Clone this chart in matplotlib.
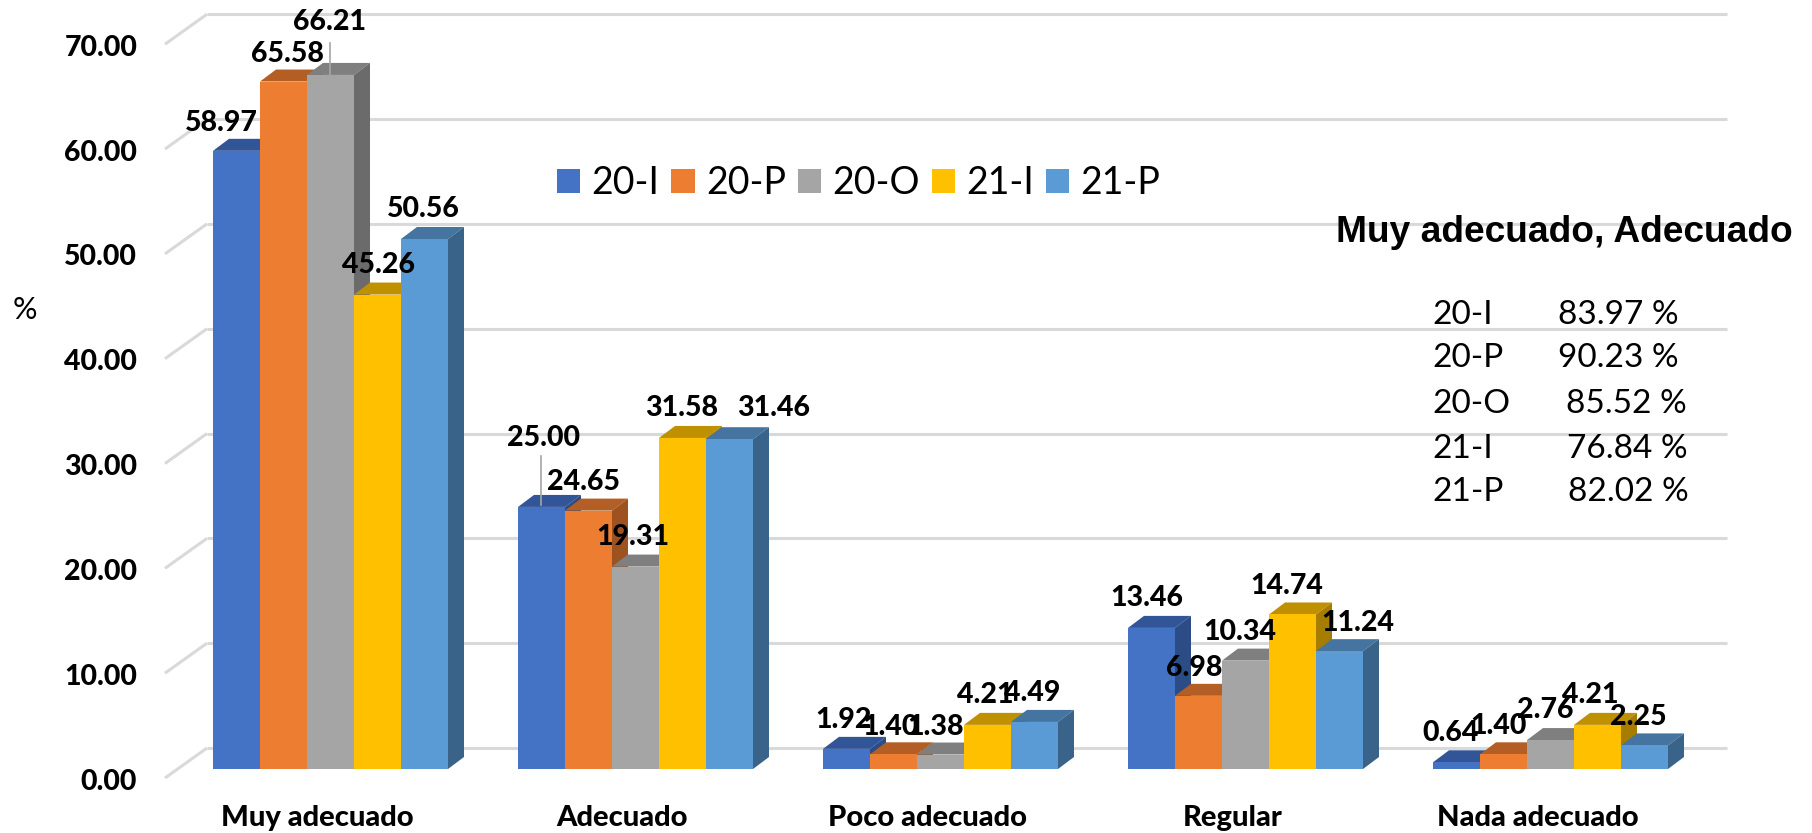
import matplotlib
matplotlib.use('Agg')
import matplotlib.pyplot as plt
from matplotlib.patches import Patch
from matplotlib.transforms import IdentityTransform, ScaledTranslation

categorias = ['Muy adecuado', 'Adecuado', 'Poco adecuado', 'Regular', 'Nada adecuado']
periodos = ['20-I', '20-P', '20-O', '21-I', '21-P']
valores_20i = [58.97, 25.00, 1.92, 13.46, 0.64]
valores_20p = [65.58, 24.65, 1.40, 6.98, 1.40]
valores_20o = [66.21, 19.31, 1.38, 10.34, 2.76]
valores_21i = [45.26, 31.58, 4.21, 14.74, 4.21]
valores_21p = [50.56, 31.46, 4.49, 11.24, 2.25]
series = [valores_20i, valores_20p, valores_20o, valores_21i, valores_21p]
ticks_y = [0, 10, 20, 30, 40, 50, 60, 70]
resumen_periodos = ['20-I', '20-P', '20-O', '21-I', '21-P']
resumen_valores = ['83.97 %', '90.23 %', '85.52 %', '76.84 %', '82.02 %']

# colores: frente, tapa, lado
col_frente = ['#4472C4', '#ED7D31', '#A5A5A5', '#FFC000', '#5B9BD5']
col_tapa = ['#325597', '#B35E24', '#7F7F7F', '#BF9000', '#44749F']
col_lado = ['#2C4C86', '#9E5220', '#6B6B6B', '#A67D00', '#3A6389']

# centros de las etiquetas en pixeles (las del original estan colocadas a mano)
etiquetas_xy = [
    [(221, 123), (287, 54), (330, 22), (378, 265), (423, 209)],
    [(543, 438), (584, 482), (633, 537), (682, 408), (774, 408)],
    [(844, 720), (890, 727), (936, 727), (985, 695), (1032, 693)],
    [(1147, 598), (1194, 668), (1240, 632), (1287, 586), (1358, 623)],
    [(1451, 733), (1498, 726), (1545, 710), (1590, 695), (1638, 717)],
]

W, H = 1812, 833
fig = plt.figure(figsize=(W / 100, H / 100), dpi=100)
ax_left, ax_right, y0_px, y70_px = 165, 1727, 769, 35.2
ax = fig.add_axes([ax_left / W, (H - y0_px) / H, (ax_right - ax_left) / W, (y0_px - y70_px) / H])

px_x = 305.0  # pixeles por categoria
px_y = (y0_px - y70_px) / 70.0
centro0 = 330.5
ax.set_xlim((ax_left - centro0) / px_x, (ax_right - centro0) / px_x)
ax.set_ylim(0, 70)
for s in ax.spines.values():
    s.set_visible(False)

ancho = 47 / px_x
dx = 16 / px_x
dy = 12 / px_y

# rejilla: pared del fondo y diagonal del piso
x_ini = ax.get_xlim()[0]
for t in ticks_y:
    ax.plot([x_ini, x_ini + 42 / px_x], [t - 9 / px_y, t + 21 / px_y],
            color='#D9D9D9', lw=2.2, clip_on=False, zorder=1, solid_capstyle='butt')
    ax.plot([x_ini + 42 / px_x, ax.get_xlim()[1]], [t + 21 / px_y, t + 21 / px_y],
            color='#D9D9D9', lw=2.2, clip_on=False, zorder=1, solid_capstyle='butt')

# barras
z = 2
for i in range(len(categorias)):
    for j, vals in enumerate(series):
        v = vals[i]
        izq = i + (j - 2.5) * ancho
        der = izq + ancho
        ax.fill([izq, izq + dx, der + dx, der], [v, v + dy, v + dy, v],
                color=col_tapa[j], lw=0, zorder=z, clip_on=False)
        ax.fill([der, der + dx, der + dx, der], [0, dy, v + dy, v],
                color=col_lado[j], lw=0, zorder=z, clip_on=False)
        ax.bar(izq, v, width=ancho, align='edge', color=col_frente[j], lw=0, zorder=z, clip_on=False)
        z += 1

# ejes
ax.set_yticks(ticks_y)
ax.set_yticklabels([f'{t:.2f}' for t in ticks_y], fontfamily='Lato', fontweight=900, fontsize=20.5)
ax.tick_params(axis='y', length=0, pad=20)
desp_y = ScaledTranslation(0, -10 / 100, fig.dpi_scale_trans)
for lab in ax.get_yticklabels():
    lab.set_transform(lab.get_transform() + desp_y)

ax.set_xticks(range(len(categorias)))
ax.set_xticklabels(categorias, fontfamily='Lato', fontweight=900, fontsize=21)
ax.tick_params(axis='x', length=0, pad=26)
desp_x = ScaledTranslation(-13 / 100, 0, fig.dpi_scale_trans)
for lab in ax.get_xticklabels():
    lab.set_transform(lab.get_transform() + desp_x)

# etiquetas de datos
pix = IdentityTransform()
for i in range(len(categorias)):
    for j, vals in enumerate(series):
        xp, yp = etiquetas_xy[i][j]
        ax.text(xp, H - yp, f'{vals[i]:.2f}', transform=pix, ha='center', va='center',
                fontfamily='Lato', fontweight=900, fontsize=20.5, color='black', zorder=100, clip_on=False)

# lineas guia
for (x1, y1, y2) in [(330, 43, 75), (541, 456, 505)]:
    ax.plot([x1, x1], [H - y1, H - y2], transform=pix, color='#A6A6A6', lw=1.2, zorder=99, clip_on=False)

# leyenda
handles = [Patch(color=c, lw=0) for c in col_frente]
fig.legend(handles, periodos, ncol=5, frameon=False, loc='center left',
           bbox_to_anchor=(557 / W, 1 - 183 / H), prop={'family': 'Lato', 'size': 27},
           handlelength=0.62, handleheight=0.62, handletextpad=0.3, columnspacing=0.32, borderpad=0, borderaxespad=0)

# textos
fig.text(25 / W, 1 - 310 / H, '%', fontfamily='Lato', fontsize=22, ha='center', va='center')
fig.text(1564 / W, 1 - 233 / H, 'Muy adecuado, Adecuado', fontfamily='Liberation Sans', fontweight='bold',
         fontsize=26.7, ha='center', va='center')

ys = [315, 358, 404, 449, 492]
xs = [1558, 1558, 1566, 1567, 1568]
for p, r, yp, xp in zip(resumen_periodos, resumen_valores, ys, xs):
    fig.text(1432 / W, 1 - yp / H, p, fontfamily='Lato', fontsize=24, ha='left', va='center')
    fig.text(xp / W, 1 - yp / H, r, fontfamily='Lato', fontsize=24, ha='left', va='center')

fig.savefig('out.png', dpi=100)
